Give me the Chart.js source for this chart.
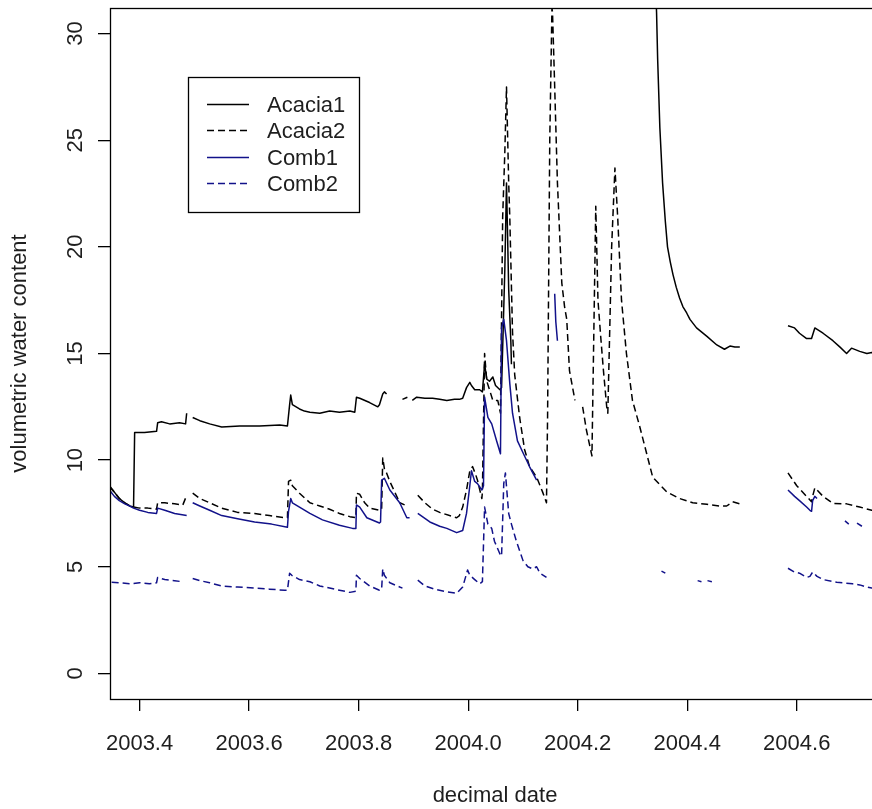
<!DOCTYPE html>
<html>
<head>
<meta charset="utf-8">
<title>Volumetric water content</title>
<script src="https://cdn.jsdelivr.net/npm/chart.js@4.4.1/dist/chart.umd.min.js"></script>
<style>
  html, body { margin: 0; padding: 0; background: #fff; overflow: hidden; }
  #wrap { width: 872px; height: 809px; overflow: hidden; position: relative; }
  canvas { display: block; }
</style>
</head>
<body>
<div id="wrap"><canvas id="chart" width="890" height="809"></canvas></div>
<script>
// Axis ticks
const xTicks = [2003.4, 2003.6, 2003.8, 2004.0, 2004.2, 2004.4, 2004.6];
const yTicks = [0, 5, 10, 15, 20, 25, 30];

// Series: [decimal date, volumetric water content]; null marks a logger gap
const acacia1 = [
  [2003.345, 8.75], [2003.354, 8.5], [2003.363, 8.2], [2003.373, 8.0], [2003.382, 7.85], [2003.389, 7.8],
  [2003.391, 11.3], [2003.409, 11.3], [2003.431, 11.35], [2003.433, 11.75], [2003.440, 11.8], [2003.455, 11.7],
  [2003.473, 11.75], [2003.484, 11.7], [2003.486, 12.2], [2003.490, null],
  [2003.497, 12.0], [2003.510, 11.85], [2003.528, 11.7], [2003.550, 11.55], [2003.583, 11.6], [2003.619, 11.6],
  [2003.656, 11.65], [2003.670, 11.6], [2003.674, 12.6], [2003.676, 13.05], [2003.679, 12.6], [2003.692, 12.4],
  [2003.701, 12.3], [2003.711, 12.25], [2003.729, 12.2], [2003.747, 12.3], [2003.765, 12.25], [2003.784, 12.3],
  [2003.793, 12.25], [2003.796, 12.95], [2003.802, 12.9], [2003.820, 12.7], [2003.835, 12.5], [2003.838, 12.6],
  [2003.844, 13.1], [2003.847, 13.2], [2003.851, 13.1], [2003.870, null],
  [2003.880, 12.85], [2003.889, 12.95], [2003.893, null],
  [2003.898, 12.8], [2003.906, 12.95], [2003.921, 12.9], [2003.935, 12.9], [2003.948, 12.85], [2003.961, 12.8],
  [2003.975, 12.85], [2003.984, 12.85], [2003.990, 12.9], [2003.997, 13.4], [2004.003, 13.65], [2004.006, 13.5],
  [2004.012, 13.3], [2004.021, 13.3], [2004.026, 13.2], [2004.030, 14.5], [2004.034, 13.8], [2004.039, 13.7],
  [2004.045, 13.9], [2004.050, 13.5], [2004.058, 13.3], [2004.061, 13.4], [2004.067, 19.0], [2004.070, 23.0],
  [2004.074, 18.0], [2004.078, 15.5], [2004.079, 14.5], [2004.200, null],
  [2004.341, 33.0], [2004.344, 31.0], [2004.346, 28.8], [2004.350, 25.6], [2004.355, 23.0], [2004.360, 21.2],
  [2004.364, 20.0], [2004.369, 19.3], [2004.374, 18.7], [2004.380, 18.1], [2004.386, 17.6], [2004.392, 17.2],
  [2004.399, 16.9], [2004.405, 16.6], [2004.417, 16.2], [2004.436, 15.8], [2004.454, 15.4], [2004.468, 15.2],
  [2004.478, 15.35], [2004.487, 15.3], [2004.496, 15.3], [2004.540, null],
  [2004.584, 16.3], [2004.596, 16.2], [2004.605, 15.95], [2004.618, 15.7], [2004.627, 15.7], [2004.633, 16.2],
  [2004.648, 15.95], [2004.666, 15.6], [2004.679, 15.3], [2004.691, 15.0], [2004.700, 15.25], [2004.715, 15.1],
  [2004.728, 15.0], [2004.737, 15.05], [2004.752, 15.0]
];

const acacia2 = [
  [2003.345, 8.8], [2003.354, 8.5], [2003.363, 8.2], [2003.373, 8.0], [2003.382, 7.85], [2003.389, 7.8],
  [2003.400, 7.75], [2003.415, 7.75], [2003.431, 7.7], [2003.433, 8.0], [2003.446, 8.0], [2003.464, 7.95],
  [2003.479, 7.9], [2003.486, 8.35], [2003.490, null],
  [2003.497, 8.45], [2003.510, 8.2], [2003.528, 8.0], [2003.550, 7.75], [2003.579, 7.55], [2003.610, 7.5],
  [2003.637, 7.4], [2003.665, 7.3], [2003.670, 7.3], [2003.672, 9.0], [2003.676, 9.06], [2003.679, 8.8],
  [2003.692, 8.45], [2003.711, 8.0], [2003.729, 7.85], [2003.747, 7.7], [2003.765, 7.5], [2003.784, 7.35],
  [2003.795, 7.3], [2003.796, 8.45], [2003.802, 8.4], [2003.811, 8.0], [2003.820, 7.75], [2003.838, 7.65],
  [2003.842, 7.7], [2003.844, 10.1], [2003.847, 9.6], [2003.851, 9.4], [2003.857, 9.0], [2003.866, 8.5],
  [2003.875, 8.0], [2003.884, 7.9], [2003.895, null],
  [2003.908, 8.35], [2003.921, 8.0], [2003.935, 7.7], [2003.948, 7.55], [2003.966, 7.4], [2003.979, 7.3],
  [2003.984, 7.4], [2003.990, 7.8], [2003.997, 8.6], [2004.003, 9.5], [2004.008, 9.7], [2004.014, 9.3],
  [2004.017, 9.06], [2004.025, 8.2], [2004.026, 8.5], [2004.030, 15.0], [2004.034, 13.7], [2004.039, 13.3],
  [2004.045, 12.8], [2004.054, 12.8], [2004.059, 12.2], [2004.063, 21.4], [2004.067, 24.5], [2004.070, 27.5],
  [2004.074, 23.0], [2004.076, 21.4], [2004.081, 16.0], [2004.085, 14.0], [2004.094, 12.0], [2004.103, 10.5],
  [2004.112, 9.7], [2004.125, 9.2], [2004.136, 8.5], [2004.143, 8.0], [2004.145, 12.0], [2004.149, 25.0],
  [2004.153, 31.2], [2004.154, 31.0], [2004.158, 27.5], [2004.163, 23.0], [2004.171, 18.3], [2004.176, 17.2],
  [2004.180, 16.6], [2004.185, 14.2], [2004.195, 12.8], [2004.202, null],
  [2004.209, 12.5], [2004.216, 11.4], [2004.226, 10.2], [2004.233, 21.9], [2004.237, 17.5], [2004.242, 15.8],
  [2004.247, 14.2], [2004.253, 12.5], [2004.255, 12.2], [2004.262, 20.0], [2004.268, 23.7], [2004.273, 21.4],
  [2004.280, 17.5], [2004.289, 15.0], [2004.300, 12.8], [2004.313, 11.6], [2004.326, 10.3], [2004.337, 9.2],
  [2004.363, 8.5], [2004.386, 8.2], [2004.410, 8.0], [2004.436, 7.93], [2004.459, 7.85], [2004.472, 7.85],
  [2004.483, 8.05], [2004.496, 7.95], [2004.540, null],
  [2004.584, 9.4], [2004.600, 8.8], [2004.618, 8.3], [2004.627, 8.05], [2004.629, 8.3], [2004.633, 8.7],
  [2004.637, 8.6], [2004.648, 8.3], [2004.666, 7.97], [2004.691, 7.95], [2004.715, 7.8], [2004.737, 7.65],
  [2004.752, 7.6]
];

const comb1 = [
  [2003.345, 8.6], [2003.354, 8.3], [2003.363, 8.1], [2003.373, 7.95], [2003.382, 7.85], [2003.389, 7.75],
  [2003.400, 7.65], [2003.415, 7.55], [2003.431, 7.5], [2003.433, 7.75], [2003.446, 7.65], [2003.464, 7.5],
  [2003.486, 7.4], [2003.490, null],
  [2003.497, 8.0], [2003.510, 7.85], [2003.528, 7.65], [2003.550, 7.4], [2003.579, 7.25], [2003.610, 7.1],
  [2003.641, 7.0], [2003.670, 6.85], [2003.672, 7.6], [2003.676, 8.2], [2003.679, 8.0], [2003.692, 7.8],
  [2003.711, 7.5], [2003.734, 7.2], [2003.765, 6.95], [2003.789, 6.8], [2003.795, 6.8], [2003.796, 7.9],
  [2003.802, 7.8], [2003.815, 7.3], [2003.838, 7.05], [2003.840, 7.1], [2003.842, 9.06], [2003.847, 9.15],
  [2003.857, 8.6], [2003.875, 8.0], [2003.888, 7.3], [2003.893, 7.3], [2003.900, null],
  [2003.908, 7.5], [2003.930, 7.1], [2003.948, 6.9], [2003.961, 6.8], [2003.979, 6.6], [2003.990, 6.7],
  [2003.997, 7.5], [2004.003, 8.8], [2004.006, 9.5], [2004.012, 9.0], [2004.017, 8.9], [2004.025, 8.6],
  [2004.028, 8.8], [2004.030, 12.96], [2004.036, 12.0], [2004.043, 11.7], [2004.052, 10.9], [2004.059, 10.3],
  [2004.061, 16.2], [2004.065, 16.6], [2004.070, 15.6], [2004.076, 13.6], [2004.081, 12.2], [2004.090, 10.9],
  [2004.101, 10.3], [2004.112, 9.7], [2004.125, 9.06], [2004.140, null],
  [2004.158, 17.8], [2004.160, 16.5], [2004.163, 15.6], [2004.300, null],
  [2004.584, 8.6], [2004.596, 8.3], [2004.605, 8.1], [2004.618, 7.8], [2004.624, 7.65], [2004.627, 7.6],
  [2004.629, 8.1], [2004.633, 8.3], [2004.637, 8.2], [2004.660, null],
  [2004.688, 7.15], [2004.695, 7.0], [2004.702, null],
  [2004.710, 7.05], [2004.719, 6.9]
];

const comb2 = [
  [2003.349, 4.27], [2003.363, 4.25], [2003.382, 4.2], [2003.400, 4.25], [2003.418, 4.2], [2003.431, 4.25],
  [2003.433, 4.5], [2003.446, 4.4], [2003.464, 4.35], [2003.477, 4.3], [2003.488, null],
  [2003.497, 4.45], [2003.510, 4.35], [2003.528, 4.25], [2003.550, 4.1], [2003.579, 4.05], [2003.610, 4.0],
  [2003.637, 3.95], [2003.665, 3.9], [2003.670, 3.9], [2003.674, 4.7], [2003.678, 4.6], [2003.692, 4.4],
  [2003.711, 4.3], [2003.729, 4.1], [2003.747, 4.0], [2003.765, 3.9], [2003.784, 3.8], [2003.795, 3.85],
  [2003.796, 4.6], [2003.802, 4.45], [2003.820, 4.1], [2003.838, 3.9], [2003.842, 3.95], [2003.844, 4.9],
  [2003.847, 4.6], [2003.857, 4.25], [2003.875, 4.05], [2003.880, 4.0], [2003.895, null],
  [2003.908, 4.37], [2003.921, 4.1], [2003.939, 3.95], [2003.957, 3.85], [2003.979, 3.75], [2003.990, 4.05],
  [2003.999, 4.85], [2004.003, 4.6], [2004.012, 4.4], [2004.021, 4.2], [2004.026, 4.3], [2004.030, 7.8],
  [2004.036, 7.0], [2004.043, 6.8], [2004.048, 6.2], [2004.058, 5.6], [2004.061, 5.5], [2004.065, 8.9],
  [2004.068, 9.4], [2004.074, 7.5], [2004.079, 7.0], [2004.088, 6.2], [2004.100, 5.3], [2004.109, 5.0],
  [2004.118, 4.9], [2004.125, 5.0], [2004.131, 4.7], [2004.143, 4.5], [2004.200, null],
  [2004.353, 4.8], [2004.360, 4.7], [2004.390, null],
  [2004.419, 4.35], [2004.426, 4.3], [2004.432, null],
  [2004.437, 4.35], [2004.445, 4.3], [2004.500, null],
  [2004.584, 4.93], [2004.596, 4.75], [2004.605, 4.7], [2004.618, 4.5], [2004.624, 4.55], [2004.629, 4.75],
  [2004.637, 4.55], [2004.648, 4.4], [2004.673, 4.27], [2004.702, 4.2], [2004.715, 4.15], [2004.728, 4.05],
  [2004.737, 4.0], [2004.752, 3.95]
];

// Legend anchor (top-left corner, in data units)
const legendAnchor = [2003.488, 27.95];

const FONT = "'Liberation Sans', Arial, Helvetica, sans-serif";
const TEXT = '#1e1e1e';
const BLUE = '#12128a';
const DASH = [7, 4];

Chart.defaults.font.family = FONT;
Chart.defaults.font.size = 22;
Chart.defaults.color = TEXT;

const toPoints = rows => rows.map(([x, y]) => ({ x, y }));

// Plot frame (box around the plotting region)
const framePlugin = {
  id: 'frame',
  afterDraw(chart) {
    const { ctx, chartArea: a } = chart;
    ctx.save();
    ctx.strokeStyle = '#000';
    ctx.lineWidth = 1.3;
    ctx.strokeRect(Math.round(a.left) + 0.5, Math.round(a.top) + 0.5,
                   Math.round(a.right - a.left), Math.round(a.bottom - a.top));
    ctx.restore();
  }
};

// Vertical y tick labels, reading upward
const yLabelPlugin = {
  id: 'yLabels',
  afterDraw(chart) {
    const { ctx } = chart;
    const ys = chart.scales.y;
    ctx.save();
    ctx.fillStyle = TEXT;
    ctx.font = `22px ${FONT}`;
    ctx.textAlign = 'center';
    ctx.textBaseline = 'alphabetic';
    ys.ticks.forEach(t => {
      const py = ys.getPixelForValue(t.value);
      ctx.save();
      ctx.translate(ys.right - 28, py);
      ctx.rotate(-Math.PI / 2);
      ctx.fillText(String(t.value), 0, 0);
      ctx.restore();
    });
    ctx.restore();
  }
};

// Boxed legend inside the plot
const boxLegendPlugin = {
  id: 'boxLegend',
  afterDraw(chart) {
    const { ctx } = chart;
    const bx = Math.round(chart.scales.x.getPixelForValue(legendAnchor[0]));
    const by = Math.round(chart.scales.y.getPixelForValue(legendAnchor[1]));
    const w = 171, h = 135, rowGap = 26.4, firstRow = 27;
    ctx.save();
    ctx.fillStyle = '#fff';
    ctx.fillRect(bx, by, w, h);
    ctx.strokeStyle = '#000';
    ctx.lineWidth = 1.3;
    ctx.strokeRect(bx + 0.5, by + 0.5, w, h);
    ctx.font = `22px ${FONT}`;
    ctx.textAlign = 'left';
    ctx.textBaseline = 'middle';
    chart.data.datasets.forEach((ds, i) => {
      const y = Math.round(by + firstRow + i * rowGap) + 0.5;
      ctx.beginPath();
      ctx.setLineDash(ds.borderDash || []);
      ctx.strokeStyle = ds.borderColor;
      ctx.lineWidth = 1.5;
      ctx.moveTo(bx + 19, y);
      ctx.lineTo(bx + 61, y);
      ctx.stroke();
      ctx.setLineDash([]);
      ctx.fillStyle = TEXT;
      ctx.fillText(ds.label, bx + 79, y + 1);
    });
    ctx.restore();
  }
};

const axisGrid = {
  display: true,
  drawOnChartArea: false,
  drawTicks: true,
  tickLength: 12,
  color: '#000',
  lineWidth: 1.3
};

new Chart(document.getElementById('chart'), {
  type: 'line',
  data: {
    datasets: [
      { label: 'Acacia1', data: toPoints(acacia1), borderColor: '#000', borderDash: [], order: 4 },
      { label: 'Acacia2', data: toPoints(acacia2), borderColor: '#000', borderDash: DASH, order: 3 },
      { label: 'Comb1', data: toPoints(comb1), borderColor: BLUE, borderDash: [], order: 2 },
      { label: 'Comb2', data: toPoints(comb2), borderColor: BLUE, borderDash: DASH, order: 1 }
    ]
  },
  options: {
    responsive: false,
    animation: false,
    spanGaps: false,
    layout: { padding: { top: 8, right: 10, left: 0, bottom: 0 } },
    elements: {
      point: { radius: 0, hoverRadius: 0 },
      line: { borderWidth: 1.5, tension: 0, fill: false, borderCapStyle: 'butt', borderJoinStyle: 'round' }
    },
    plugins: { legend: { display: false }, tooltip: { enabled: false } },
    events: [],
    scales: {
      x: {
        type: 'linear',
        min: 2003.346,
        max: 2004.752,
        afterBuildTicks: s => { s.ticks = xTicks.map(v => ({ value: v })); },
        afterFit: s => { s.height = 110; },
        grid: axisGrid,
        border: { display: false },
        ticks: {
          padding: 20,
          autoSkip: false,
          maxRotation: 0,
          minRotation: 0,
          color: TEXT,
          font: { size: 22 },
          callback: v => Number(v).toFixed(1)
        },
        title: { display: true, text: 'decimal date', color: TEXT, font: { size: 22 }, padding: { top: 0, bottom: 0 } }
      },
      y: {
        type: 'linear',
        min: -1.2,
        max: 31.2,
        afterBuildTicks: s => { s.ticks = yTicks.map(v => ({ value: v })); },
        afterFit: s => { s.width = 110; },
        grid: axisGrid,
        border: { display: false },
        ticks: { display: false },
        title: { display: true, text: 'volumetric water content', color: TEXT, font: { size: 22 }, padding: { top: 7, bottom: 0 } }
      }
    }
  },
  plugins: [framePlugin, yLabelPlugin, boxLegendPlugin]
});
</script>
</body>
</html>
